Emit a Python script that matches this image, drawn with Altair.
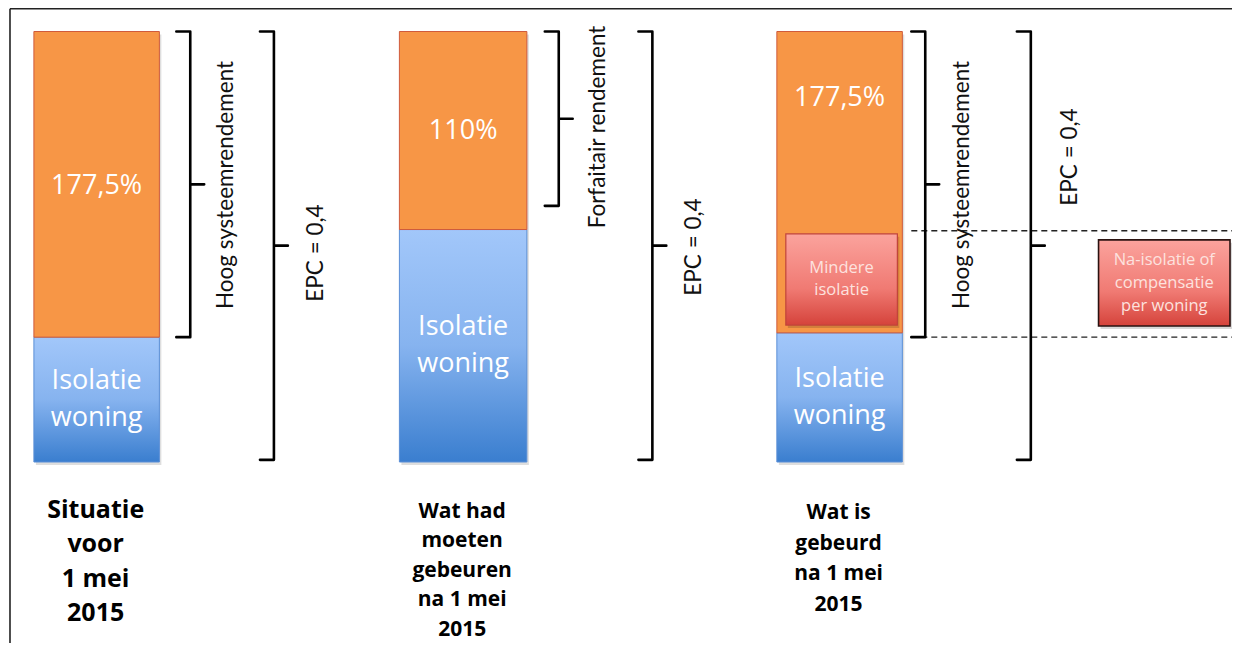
import altair as alt
import pandas as pd

# ---------------- data ----------------
scenario_lines = [
    ["Situatie", "voor", "1 mei", "2015"],
    ["Wat had", "moeten", "gebeuren", "na 1 mei", "2015"],
    ["Wat is", "gebeurd", "na 1 mei", "2015"],
]
isolatie = [29, 54, 30]          # share of the EPC bar from insulation
rendement = [71, 46, 70]         # share of the EPC bar from system efficiency
rendement_labels = ["177,5%", "110%", "177,5%"]
isolatie_lines = ["Isolatie", "woning"]
bracket_labels = ["Hoog systeemrendement", "Forfaitair rendement", "Hoog systeemrendement"]
bracket_lo = [29, 59.5, 29]
bracket_hi = [100, 100, 100]
epc_label = "EPC = 0,4"
mindere_lines = ["Mindere", "isolatie"]
mindere_span = [31.8, 53.0]
comp_lines = ["Na-isolatie of", "compensatie", "per woning"]
comp_span = [31.6, 51.6]
dashed_levels = [53.7, 29.0]

# ---------------- layout ----------------
PXU = 4.305
def py(p):
    return (462 - p) / PXU

bar_x0 = [35, 402, 781]
bar_x1 = [161, 530, 907]
inner_bx = [192, 562, 930]
epc_bx = [276, 656, 1036]
inner_tx = [228, 601, 967]
inner_ty = [py(185), py(127), py(185)]
epc_tx = [318, 698, 1075]
epc_ty = [py(253), py(247), py(157)]
rend_ty = [64.0, 77.0, 84.5]
label_x = [97, 465, 843]
label_y0 = [510, 511.5, 513]
label_gap = [34.3, 29.5, 30.5]
label_size = [25, 21, 21]
mindere_x = [790, 902]
comp_x = [1104, 1236]

XS = alt.Scale(domain=[9, 1238], nice=False, zero=False)
YS = alt.Scale(domain=[py(643), py(8)], nice=False, zero=False)

def X(f="x"):
    return alt.X(f"{f}:Q", scale=XS, axis=None)

def Y(f="y"):
    return alt.Y(f"{f}:Q", scale=YS, axis=None)

HFONT = "Open Sans"
RFONT = "Lato"

# bars
blue_rows, orange_rows = [], []
for i in range(3):
    blue_rows.append(dict(x=bar_x0[i], x2=bar_x1[i], y=0, y2=isolatie[i]))
    orange_rows.append(dict(x=bar_x0[i], x2=bar_x1[i], y=isolatie[i], y2=isolatie[i] + rendement[i]))
blue_df = pd.DataFrame(blue_rows)
orange_df = pd.DataFrame(orange_rows)
all_bars = pd.DataFrame([dict(x=bar_x0[i], x2=bar_x1[i], y=0, y2=isolatie[i] + rendement[i]) for i in range(3)])

blue_grad = alt.Gradient(
    gradient="linear",
    stops=[alt.GradientStop(color="#a2c7fa", offset=0),
           alt.GradientStop(color="#86b3ef", offset=0.5),
           alt.GradientStop(color="#3a7ecf", offset=1)],
    x1=0, x2=0, y1=0, y2=1)
red_grad = alt.Gradient(
    gradient="linear",
    stops=[alt.GradientStop(color="#fba39d", offset=0),
           alt.GradientStop(color="#f07a73", offset=0.6),
           alt.GradientStop(color="#d5433b", offset=1)],
    x1=0, x2=0, y1=0, y2=1)

def rect_enc(c):
    return c.encode(x=X("x"), x2="x2", y=Y("y"), y2="y2")

shadow = rect_enc(alt.Chart(all_bars).mark_rect(color="black", opacity=0.13,
                                                xOffset=2, x2Offset=2, yOffset=3, y2Offset=3))
blue = rect_enc(alt.Chart(blue_df).mark_rect(color=blue_grad, stroke="#5b8fd6", strokeWidth=1))
orange = rect_enc(alt.Chart(orange_df).mark_rect(color="#f79646", stroke="#cf5b3c", strokeWidth=1))

boxes_df = pd.DataFrame([
    dict(x=mindere_x[0], x2=mindere_x[1], y=mindere_span[0], y2=mindere_span[1]),
])
comp_df = pd.DataFrame([
    dict(x=comp_x[0], x2=comp_x[1], y=comp_span[0], y2=comp_span[1]),
])
box_shadow = rect_enc(alt.Chart(pd.concat([boxes_df, comp_df])).mark_rect(
    color="black", opacity=0.15, xOffset=2, x2Offset=2, yOffset=3, y2Offset=3))
mindere_box = rect_enc(alt.Chart(boxes_df).mark_rect(color=red_grad, stroke="#c0443a", strokeWidth=1.2))
comp_box = rect_enc(alt.Chart(comp_df).mark_rect(color=red_grad, stroke="#2a1210", strokeWidth=1.6))

# brackets
brows = []
def add_bracket(bid, xv, lo, hi, arm=14, tick=14):
    mid = (lo + hi) / 2
    pts = [(xv - arm, hi), (xv, hi), (xv, mid), (xv + tick, mid), (xv, mid), (xv, lo), (xv - arm, lo)]
    for k, (px, pv) in enumerate(pts):
        brows.append(dict(b=bid, o=k, x=px, y=pv))

for i in range(3):
    add_bracket(f"r{i}", inner_bx[i], bracket_lo[i], bracket_hi[i])
    add_bracket(f"e{i}", epc_bx[i], 0.5, isolatie[i] + rendement[i])
brackets = alt.Chart(pd.DataFrame(brows)).mark_line(
    color="black", strokeWidth=2.6, strokeJoin="round", strokeCap="round"
).encode(x=X("x"), y=Y("y"), detail="b:N", order="o:Q")

# dashed lines
dash_df = pd.DataFrame([dict(x=916, x2=1240, y=v) for v in dashed_levels])
dashes = alt.Chart(dash_df).mark_rule(color="#222", strokeWidth=1.4, strokeDash=[6, 4]).encode(
    x=X("x"), x2="x2", y=Y("y"))

# frame
frame_df = pd.DataFrame([
    dict(x=11, x2=11, y=py(643), y2=py(8.8)),
    dict(x=11, x2=1240, y=py(8.8), y2=py(8.8)),
])
frame = alt.Chart(frame_df).mark_rule(color="#222", strokeWidth=1.6).encode(
    x=X("x"), x2="x2", y=Y("y"), y2="y2")

# texts in bars
trow = []
for i in range(3):
    cx = (bar_x0[i] + bar_x1[i]) / 2
    trow.append(dict(x=cx, y=rend_ty[i], t=rendement_labels[i]))
    mid = isolatie[i] / 2
    trow.append(dict(x=cx, y=mid + 4.3, t=isolatie_lines[0]))
    trow.append(dict(x=cx, y=mid - 4.3, t=isolatie_lines[1]))
bar_text = alt.Chart(pd.DataFrame(trow)).mark_text(
    font=HFONT, fontSize=27, color="white", align="center", baseline="middle"
).encode(x=X("x"), y=Y("y"), text="t:N")

# rotated labels
rrows = []
for i in range(3):
    rrows.append(dict(x=inner_tx[i], y=inner_ty[i], t=bracket_labels[i]))
    rrows.append(dict(x=epc_tx[i], y=epc_ty[i], t=epc_label))
rot_text = alt.Chart(pd.DataFrame(rrows)).mark_text(
    font=RFONT, fontSize=22.5, color="#111", angle=270, align="center", baseline="middle"
).encode(x=X("x"), y=Y("y"), text="t:N")

# box texts
brow = []
mmid = sum(mindere_span) / 2
for k, t in enumerate(mindere_lines):
    brow.append(dict(x=sum(mindere_x) / 2, y=mmid + 2.55 - k * 5.1, t=t))
cmid = sum(comp_span) / 2
for k, t in enumerate(comp_lines):
    brow.append(dict(x=sum(comp_x) / 2, y=cmid + 5.25 - k * 5.25, t=t))
box_text = alt.Chart(pd.DataFrame(brow)).mark_text(
    font=HFONT, fontSize=16.5, color="#fde2df", align="center", baseline="middle"
).encode(x=X("x"), y=Y("y"), text="t:N")

# bottom scenario labels (one layer per scenario, each with its own size)
label_layers = []
for i, lines in enumerate(scenario_lines):
    rows = [dict(x=label_x[i], y=py(label_y0[i] + k * label_gap[i]), t=t) for k, t in enumerate(lines)]
    label_layers.append(alt.Chart(pd.DataFrame(rows)).mark_text(
        font=HFONT, fontWeight="bold", fontSize=label_size[i], color="black",
        align="center", baseline="middle"
    ).encode(x=X("x"), y=Y("y"), text="t:N"))

chart = alt.layer(
    frame, shadow, blue, orange, box_shadow, mindere_box, comp_box, dashes, brackets,
    bar_text, rot_text, box_text, *label_layers
).properties(
    width=1224, height=635, padding=0, background="white",
    autosize=alt.AutoSizeParams(type="none")
).configure_view(stroke=None)

chart.save("out.html", embed_options={"renderer": "svg", "actions": False})
